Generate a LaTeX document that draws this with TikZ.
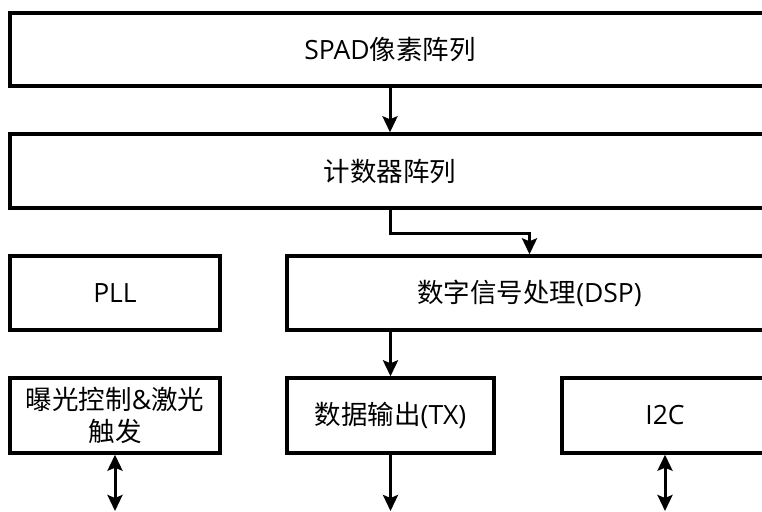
\documentclass[tikz,border=0pt]{standalone}
\usepackage{fontspec}
\setmainfont{Open Sans}
\newfontfamily\cjk{Noto Sans CJK SC}
\usetikzlibrary{arrows.meta}
\tikzset{
  blk/.style={draw=black, line width=3.4pt, fill=white, inner sep=0pt, font=\fontsize{26.5}{32}\selectfont, align=center},
  arr/.style={line width=3pt, -{Stealth[length=16pt,width=15pt,inset=3pt]}},
  darr/.style={line width=3pt, {Stealth[length=16pt,width=15pt,inset=3pt]}-{Stealth[length=16pt,width=15pt,inset=3pt]}},
}
\newcommand{\bx}[6]{% name, x1, y1, x2, y2, text
  \node[blk, minimum width=#4pt-#2pt, minimum height=#5pt-#3pt] (#1) at ({(#2+#4)/2*1pt},{-(#3+#5)/2*1pt}) {#6};}
\begin{document}
\begin{tikzpicture}
\useasboundingbox (0,0) rectangle (762pt,-511pt);
\clip (0,0) rectangle (762pt,-511pt);
\fill[white] (0,0) rectangle (762pt,-511pt);
\bx{spad}{10}{13}{770}{86}{SPAD{\cjk 像素阵列}}
\bx{cnt}{10}{134}{770}{208}{{\cjk 计数器阵列}}
\bx{pll}{10}{256}{220}{330}{PLL}
\bx{dsp}{287}{256}{772}{330}{{\cjk 数字信号处理}(DSP)}
\bx{exp}{10}{378}{220}{453}{{\cjk 曝光控制}\&{\cjk 激光}\\{\cjk 触发}}
\bx{tx}{287}{378}{494}{453}{{\cjk 数据输出}(TX)}
\bx{i2c}{562}{378}{768}{453}{I2C}
\coordinate (e1) at (115pt,-511pt);
\coordinate (e2) at (390.5pt,-511pt);
\coordinate (e3) at (665pt,-511pt);
\draw[arr] (spad.south) -- (cnt.north);
\draw[arr] (cnt.south) -- ++(0,-24pt) -| (dsp.north);
\draw[arr] (tx.north |- dsp.south) -- (tx.north);
\draw[darr] (exp.south) -- (e1);
\draw[arr] (tx.south) -- (e2);
\draw[darr] (i2c.south) -- (e3);
\end{tikzpicture}
\end{document}
